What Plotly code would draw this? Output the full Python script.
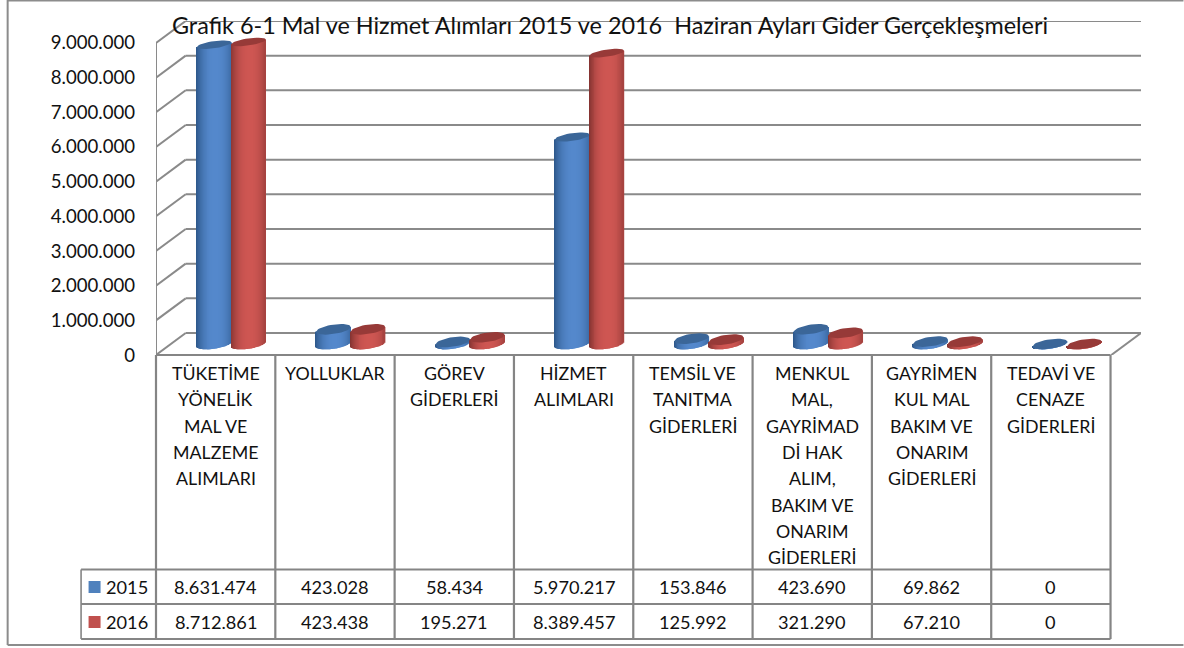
import math
import plotly.graph_objects as go

categories = [
    ["TÜKETİME", "YÖNELİK", "MAL VE", "MALZEME", "ALIMLARI"],
    ["YOLLUKLAR"],
    ["GÖREV", "GİDERLERİ"],
    ["HİZMET", "ALIMLARI"],
    ["TEMSİL VE", "TANITMA", "GİDERLERİ"],
    ["MENKUL", "MAL,", "GAYRİMAD", "Dİ HAK", "ALIM,", "BAKIM VE", "ONARIM", "GİDERLERİ"],
    ["GAYRİMEN", "KUL MAL", "BAKIM VE", "ONARIM", "GİDERLERİ"],
    ["TEDAVİ VE", "CENAZE", "GİDERLERİ"],
]
values_2015 = [8631474, 423028, 58434, 5970217, 153846, 423690, 69862, 0]
values_2016 = [8712861, 423438, 195271, 8389457, 125992, 321290, 67210, 0]
series_names = ["2015", "2016"]
tick_values = [0, 1000000, 2000000, 3000000, 4000000, 5000000, 6000000, 7000000, 8000000, 9000000]
title_text = "Grafik 6-1 Mal ve Hizmet Alımları 2015 ve 2016  Haziran Ayları Gider Gerçekleşmeleri"

W, H = 1184, 648
L, R, T, B = 155.5, 1141.5, 21.0, 355.0
CELL = (1111.0 - 155.5) / 8
PX_M = 34.67
DX = 29.7 / CELL
DY = 22.0 / PX_M * 1e6
Y_MAX = (B - T) / PX_M * 1e6
FONT = "Lato"
TXT = "#111111"
GRID = "#8a8a8a"
TABLE = "#858585"
N_CAT = len(categories)


def px(v):
    return (v - L) / (R - L)


def py(v):
    return (B - v) / (B - T)


def mix(a, b, f):
    return "rgb(%d,%d,%d)" % tuple(round(a[k] + (b[k] - a[k]) * f) for k in range(3))


styles = [
    dict(dark=(44, 86, 136), mid=(84, 136, 204), cap="#3b6698", key="#4f81bd", off=0.13 - 0.1445),
    dict(dark=(130, 50, 48), mid=(206, 86, 82), cap="#973a38", key="#c0504d", off=0.13 + 0.1445),
]
RADIUS = 17.25 / CELL
STRIPS = 36
BASE = DY / 2
TILT = 2.4 / PX_M * 1e6


def ry_of(v):
    return (4.8 - 1.3 * v / 9e6) / PX_M * 1e6


traces = []
for vals, st in zip([values_2015, values_2016], styles):
    xs, bases, heights, widths, cols = [], [], [], [], []
    capx, capy = [], []
    for i, v in enumerate(vals):
        for j in range(STRIPS):
            t = -1 + (j + 0.5) * 2 / STRIPS
            low = BASE + TILT * t - ry_of(0) * math.sqrt(max(0, 1 - t * t))
            top = BASE + v + TILT * t
            xs.append(i + st["off"] + t * RADIUS)
            bases.append(low)
            heights.append(top - low)
            widths.append(3.0 * RADIUS / STRIPS)
            f = 1 - min(1, abs(t - 0.12) / 1.12) ** 2.4
            cols.append(mix(st["dark"], st["mid"], f))
        ry = ry_of(v)
        for k in range(41):
            a = k / 40 * 2 * math.pi
            capx.append(i + st["off"] + RADIUS * math.cos(a))
            capy.append(BASE + v + TILT * math.cos(a) + ry * math.sin(a))
        capx.append(None)
        capy.append(None)
    traces.append(go.Bar(x=xs, y=heights, base=bases, width=widths,
                         marker=dict(color=cols, line=dict(width=0)),
                         hoverinfo="skip", showlegend=False))
    traces.append(go.Scatter(x=capx, y=capy, mode="lines", fill="toself",
                             fillcolor=st["cap"], line=dict(width=0),
                             hoverinfo="skip", showlegend=False))

fig = go.Figure(traces)

shapes = []


def data_line(x0, y0, x1, y1):
    shapes.append(dict(type="line", xref="x", yref="y", x0=x0, y0=y0, x1=x1, y1=y1,
                       layer="below", line=dict(color=GRID, width=2)))


def pix_line(x0, y0, x1, y1, color=TABLE, width=2.2):
    shapes.append(dict(type="line", xref="paper", yref="paper",
                       x0=px(x0), y0=py(y0), x1=px(x1), y1=py(y1),
                       layer="above", line=dict(color=color, width=width)))


left = -0.5
right = N_CAT - 0.5
for tv in tick_values:
    data_line(left, tv, left + DX, tv + DY)
    data_line(left + DX, tv + DY, right + DX, tv + DY)
data_line(left, 0, left, tick_values[-1])
data_line(right, 0, right + DX, DY)

ROW0, ROW1, ROW2, ROW3 = 355.0, 569.5, 604.0, 639.0
XR = 155.5 + CELL * N_CAT
for i in range(N_CAT + 1):
    xp = 155.5 + CELL * i
    pix_line(xp, ROW0, xp, ROW3)
pix_line(155.5, ROW0, XR, ROW0)
for yr in (ROW1, ROW2, ROW3):
    pix_line(80.5, yr, XR, yr)
pix_line(80.5, ROW1, 80.5, ROW3, width=1.6)

pix_line(7, 0.5, W, 0.5, color="#8c8c8c", width=2)
pix_line(7, 0, 7, 645, color="#8c8c8c", width=2)
pix_line(7, 645, W, 645, color="#8c8c8c", width=2)

annotations = []


def label(text, xp, yp, anchor="center", size=18.4):
    annotations.append(dict(text=text, xref="paper", yref="paper", x=px(xp), y=py(yp),
                            xanchor=anchor, yanchor="middle", showarrow=False,
                            font=dict(family=FONT, size=size, color=TXT)))


def fmt(v):
    return f"{v:,}".replace(",", ".")


for i, lines in enumerate(categories):
    cx = 155.5 + CELL * (i + 0.5)
    for n, ln in enumerate(lines):
        label(ln, cx, 373 + 26.3 * n, size=17.8)
    label(fmt(values_2015[i]), cx, 587, size=18.2)
    label(fmt(values_2016[i]), cx, 622, size=18.2)

for name, yc, st in zip(series_names, (587, 622), styles):
    label(name, 103, yc, anchor="left", size=18.2)
    shapes.append(dict(type="rect", xref="paper", yref="paper", x0=px(88), x1=px(100),
                       y0=py(yc - 6), y1=py(yc + 6), layer="above",
                       fillcolor=st["key"], line=dict(width=0)))

fig.update_layout(
    width=W, height=H, autosize=False,
    margin=dict(l=L, r=W - R, t=T, b=H - B, pad=0),
    paper_bgcolor="white", plot_bgcolor="rgba(0,0,0,0)",
    barmode="overlay", separators=",.",
    showlegend=False,
    title=dict(text=title_text, x=610 / W, xref="container", xanchor="center",
               y=1 - 26 / H, yref="container", yanchor="middle",
               font=dict(family=FONT, size=23.4, color=TXT)),
    xaxis=dict(range=[left, right + DX], showgrid=False, zeroline=False,
               showline=False, showticklabels=False, ticks="", fixedrange=True),
    yaxis=dict(range=[0, Y_MAX], showgrid=False, zeroline=False, showline=False,
               tickmode="array", tickvals=tick_values, tickformat=",d", ticks="",
               ticklabelstandoff=20, fixedrange=True,
               tickfont=dict(family=FONT, size=18.6, color=TXT)),
    shapes=shapes, annotations=annotations,
)

fig.write_html("out.html", config=dict(displayModeBar=False),
               post_script="document.body.style.margin='0';")
